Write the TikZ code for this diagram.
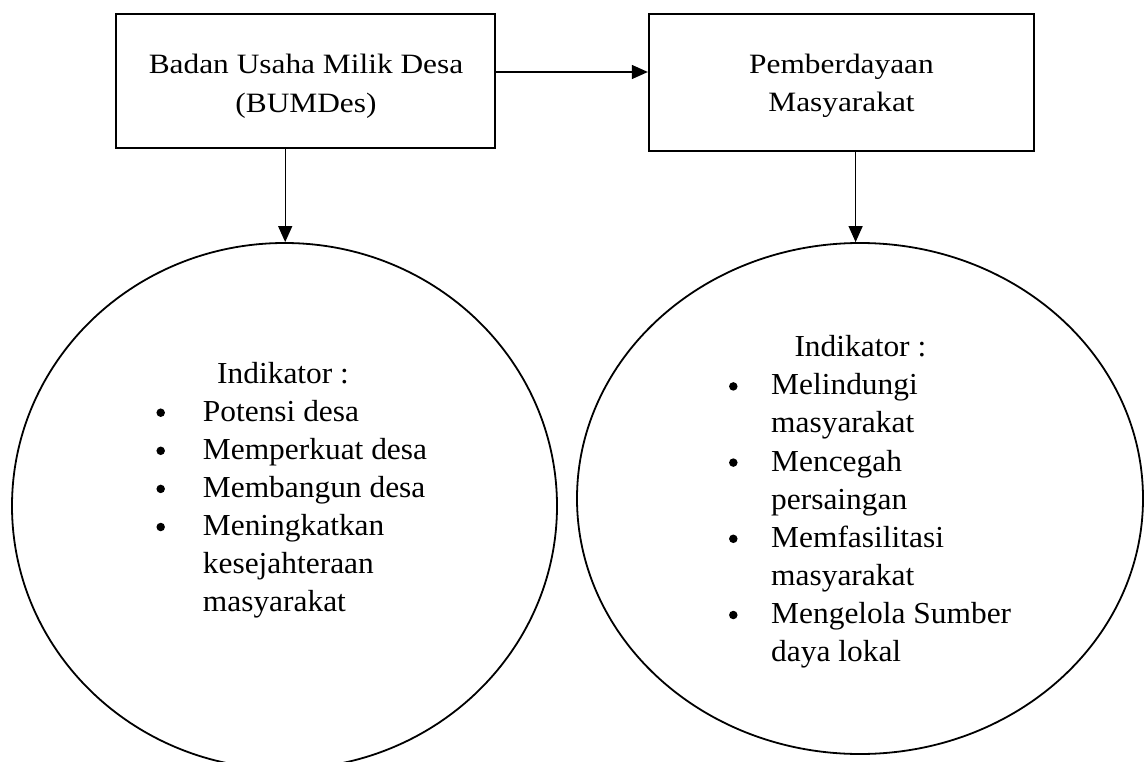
\documentclass[tikz,border=0pt]{standalone}
\usepackage{fontspec}
\setmainfont{Liberation Serif}
\newfontfamily\boxfont[FakeStretch=1.12]{Liberation Serif}
\newfontfamily\ellfont[FakeStretch=1.03]{Liberation Serif}
\usetikzlibrary{arrows.meta,shapes.geometric}
\begin{document}
\begin{tikzpicture}[x=1pt,y=-1pt,
  boxstyle/.style={draw, rectangle, line width=2pt, inner sep=0pt},
  ellstyle/.style={draw, ellipse, line width=1.8pt, inner sep=0pt},
  btxt/.style={anchor=base, inner sep=0pt, font=\boxfont\fontsize{28}{34}\selectfont},
  etxt/.style={anchor=base west, inner sep=0pt, font=\ellfont\fontsize{30.5}{36}\selectfont},
  dot/.style={circle, fill, inner sep=0pt, minimum size=8.5pt},
  arr/.style={-{Triangle[length=16pt,width=14pt]}, line width=1.3pt}]
\useasboundingbox (0,0) rectangle (1145,762);
% boxes
\node[boxstyle, minimum width=379pt, minimum height=134pt] (b1) at (305.7,81) {};
\node[boxstyle, minimum width=385.5pt, minimum height=137pt] (b2) at (841.6,82.5) {};
% ellipses
\node[ellstyle, minimum width=545pt, minimum height=526pt] (e1) at (284.5,506) {};
\node[ellstyle, minimum width=566pt, minimum height=511pt] (e2) at (860,498.5) {};
% box texts
\node[btxt] (t1) at (306,73.7) {Badan Usaha Milik Desa};
\node[btxt] (t2) at (306,112.3) {(BUMDes)};
\node[btxt] (t3) at (841.5,73.5) {Pemberdayaan};
\node[btxt] (t4) at (841.5,112) {Masyarakat};
% connectors
\draw[arr] ([yshift=9pt]b1.east) -- ([yshift=9pt]b1.east -| b2.west);
\coordinate (a1) at ([xshift=-20.5pt]b1.south);
\draw[arr] (a1) -- (a1 |- e1.north);
\coordinate (a2) at ([xshift=14pt]b2.south);
\draw[arr] (a2) -- (a2 |- e2.north);
% left list
\node[etxt] (li) at (217,383) {Indikator :};
\node[etxt] (l1) at (202.7,421.1) {Potensi desa};
\node[etxt] (l2) at (202.7,459.2) {Memperkuat desa};
\node[etxt] (l3) at (202.7,497.3) {Membangun desa};
\node[etxt] (l4) at (202.7,535.4) {Meningkatkan};
\node[etxt] (l5) at (202.7,573.5) {kesejahteraan};
\node[etxt] (l6) at (202.7,611.6) {masyarakat};
\node[dot] (ld1) at (160.7,412.7) {};
\node[dot] (ld2) at (160.7,450.8) {};
\node[dot] (ld3) at (160.7,488.9) {};
\node[dot] (ld4) at (160.7,527.0) {};
% right list
\node[etxt] (ri) at (794.3,356.7) {Indikator :};
\node[etxt] (r1) at (771,394.8) {Melindungi};
\node[etxt] (r2) at (771,432.9) {masyarakat};
\node[etxt] (r3) at (771,471.0) {Mencegah};
\node[etxt] (r4) at (771,509.1) {persaingan};
\node[etxt] (r5) at (771,547.2) {Memfasilitasi};
\node[etxt] (r6) at (771,585.3) {masyarakat};
\node[etxt] (r7) at (771,623.4) {Mengelola Sumber};
\node[etxt] (r8) at (771,661.5) {daya lokal};
\node[dot] (rd1) at (733.3,386.4) {};
\node[dot] (rd2) at (733.3,462.6) {};
\node[dot] (rd3) at (733.3,538.8) {};
\node[dot] (rd4) at (733.3,615.0) {};
\end{tikzpicture}
\end{document}
